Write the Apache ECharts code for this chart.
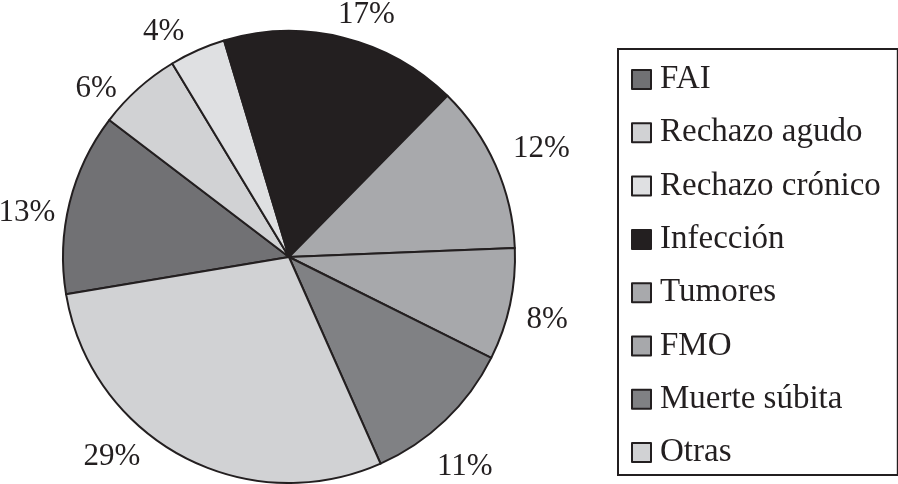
<!DOCTYPE html>
<html>
<head>
<meta charset="utf-8">
<script src="https://cdn.jsdelivr.net/npm/echarts@6/dist/echarts.min.js"></script>
<style>
  html, body { margin: 0; padding: 0; background: #fff; }
  #chart { width: 898px; height: 484px; }
</style>
</head>
<body>
<div id="chart"></div>
<script>
const categories = ['FAI', 'Rechazo agudo', 'Rechazo crónico', 'Infección', 'Tumores', 'FMO', 'Muerte súbita', 'Otras']
const percents = [13, 6, 4, 17, 12, 8, 11, 29]
const colors = ['#717174', '#d1d2d4', '#dfe0e2', '#231f20', '#a8a9ac', '#a7a8ab', '#808184', '#d1d2d4']

// small hand nudges so the percent labels sit where the original put them
const labelNudge = [[10, 15], [-3, 15], [0, 0], [-15, -3], [-6, -8], [-8, 11], [-27, 32], [-27, -17]]

const serif = '"Liberation Serif", "DejaVu Serif", serif'
const ink = '#231f20'

const chart = echarts.init(document.getElementById('chart'))

chart.setOption({
  backgroundColor: '#fff',
  animation: false,
  legend: {
    orient: 'vertical',
    left: 618,
    top: 49,
    padding: [14, 17, 6, 13],
    itemGap: 20.3,
    itemWidth: 19,
    itemHeight: 19,
    icon: 'rect',
    borderColor: ink,
    borderWidth: 2,
    borderRadius: 0,
    selectedMode: false,
    itemStyle: { borderColor: ink, borderWidth: 2 },
    textStyle: {
      fontFamily: serif,
      fontSize: 33,
      lineHeight: 33,
      color: ink,
      padding: [0, 0, 0, 4]
    },
    data: categories
  },
  series: [{
    type: 'pie',
    center: [289, 257],
    radius: 226,
    startAngle: 189.5,
    clockwise: true,
    avoidLabelOverlap: false,
    itemStyle: { borderColor: ink, borderWidth: 2 },
    label: {
      show: true,
      position: 'outside',
      formatter: '{c}%',
      fontFamily: serif,
      fontSize: 31,
      color: ink
    },
    labelLine: { show: false, length: 20, length2: 0 },
    labelLayout(params) {
      const n = labelNudge[params.dataIndex]
      return { dx: n[0], dy: n[1] }
    },
    emphasis: { disabled: true },
    data: categories.map((name, i) => ({
      name,
      value: percents[i],
      itemStyle: { color: colors[i] }
    }))
  }]
})
</script>
</body>
</html>
